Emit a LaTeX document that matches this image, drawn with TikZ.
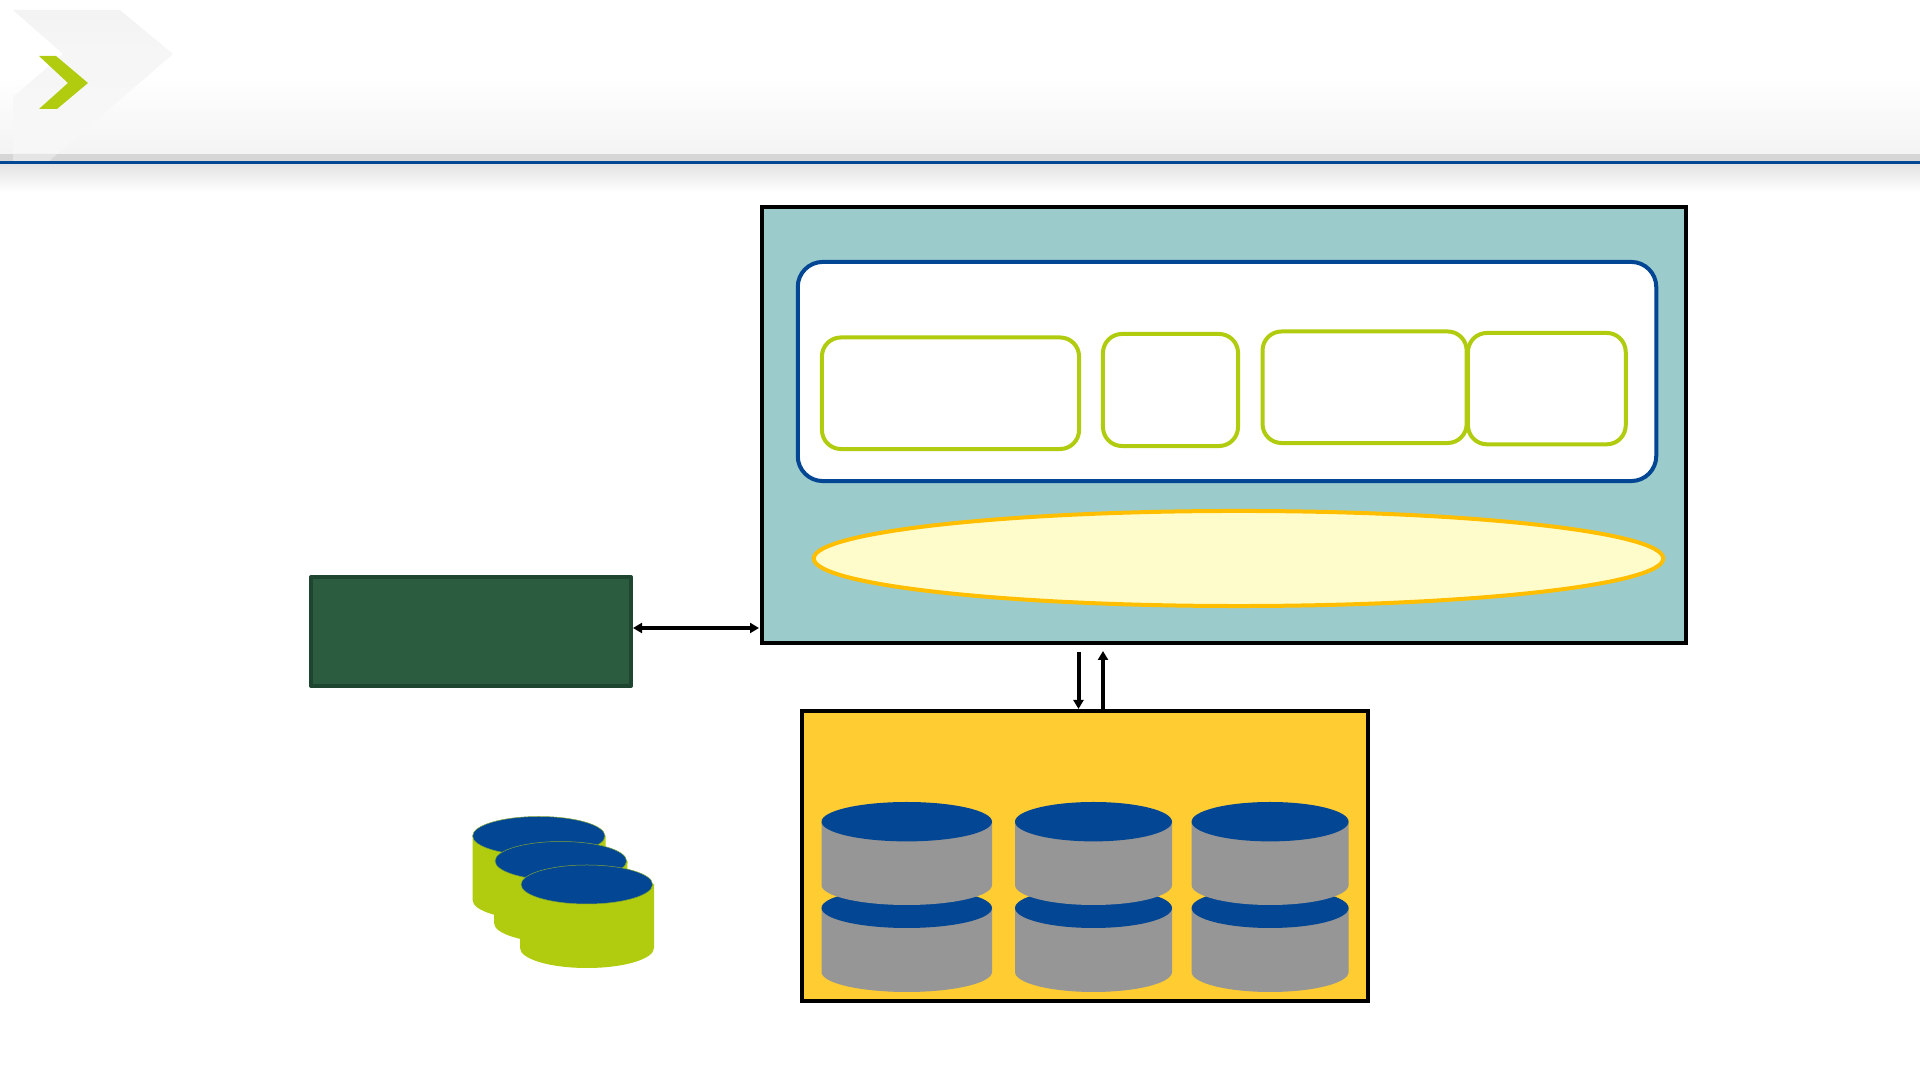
\documentclass[tikz,border=0pt]{standalone}
\usetikzlibrary{arrows.meta,shapes.geometric}
\definecolor{navyblue}{HTML}{034694}
\definecolor{limegreen}{HTML}{B1CC0E}
\definecolor{tealback}{HTML}{9BCBCB}
\definecolor{pinegreen}{HTML}{2C5C3F}
\definecolor{pineline}{HTML}{1D4530}
\definecolor{storeback}{HTML}{FFCC32}
\definecolor{diskgray}{HTML}{969696}
\pgfdeclareverticalshading{chevronfade}{100bp}{
    color(0bp)=(black!3); color(25bp)=(black!3); color(60bp)=(black!3.5); color(78bp)=(black!5);
    color(85bp)=(black!4.5); color(100bp)=(black!0.5)}
\tikzset{
    plainbox/.style={rectangle, draw=black, line width=0.43mm, inner sep=0pt},
    panelbox/.style={rectangle, rounded corners=1.9mm, draw=limegreen, fill=white, line width=0.4mm, inner sep=0pt},
    linkarrow/.style={black, line width=0.4mm},
    limebody/.style={fill=limegreen},
    graybody/.style={fill=diskgray},
    disktop/.style={fill=navyblue},
    limetop/.style={fill=navyblue, draw=limegreen!70!navyblue, line width=0.05mm},
}
\begin{document}
\begin{tikzpicture}[x=0.01cm,y=-0.01cm]
    \useasboundingbox (0,0) rectangle (1920,1080);

    % header
    \shade[top color=white, bottom color=black!4.5] (0,75) rectangle (1920,154);
    \fill[black!16] (0,154) rectangle (1920,161);
    \shade[top color=black!11, bottom color=white] (0,164) rectangle (1920,192);
    \shade[shading=chevronfade] (13,10) -- (120,10) -- (173,54) -- (57.4,154) -- (13,154) -- (13,97) -- (63,54) -- cycle;
    \fill[black!10] (13,154) -- (57.4,154) -- (49,161) -- (13,161) -- cycle;
    \fill[navyblue] (0,161) rectangle (1920,164);
    \fill[limegreen] (39,56) -- (56,56) -- (88,83) -- (57,109) -- (39,109) -- (68,83) -- cycle;

    % application side
    \node[plainbox, fill=tealback, minimum width=9.24cm, minimum height=4.36cm] (appbox) at (1224,425) {};
    \node[rectangle, rounded corners=2.5mm, draw=navyblue, fill=white, line width=0.4mm, minimum width=8.58cm, minimum height=2.19cm, inner sep=0pt] (layerbox) at (1227,371.5) {};
    \node[panelbox, minimum width=2.57cm, minimum height=1.115cm] (panela) at (950.5,393.25) {};
    \node[panelbox, minimum width=1.35cm, minimum height=1.12cm] (panelb) at (1170.5,390) {};
    \node[panelbox, minimum width=2.04cm, minimum height=1.115cm] (panelc) at (1364.6,387.25) {};
    \node[panelbox, minimum width=1.577cm, minimum height=1.113cm] (paneld) at (1546.85,388.65) {};
    \node[ellipse, draw=orange!50!yellow, fill=yellow!20, line width=0.4mm, minimum width=8.49cm, minimum height=0.95cm, inner sep=0pt] (busring) at (1238.5,558.5) {};

    % gateway
    \node[rectangle, draw=pineline, fill=pinegreen, line width=0.38mm, line join=round, minimum width=3.2cm, minimum height=1.09cm, inner sep=0pt] (gatebox) at (471,631.5) {};

    % store
    \node[plainbox, fill=storeback, minimum width=5.66cm, minimum height=2.9cm] (storebox) at (1085,856) {};

    % arrows
    \coordinate (gatedock) at (633,628);
    \coordinate (appdock) at (759,628);
    \coordinate (appout) at (1078.5,652);
    \coordinate (storein) at (1078.5,709);
    \coordinate (storeout) at (1103,709);
    \coordinate (appin) at (1103,651);
    \draw[linkarrow, {Triangle[length=0.9mm,width=1mm]}-{Triangle[length=0.9mm,width=1mm]}] (gatedock) -- (appdock);
    \draw[linkarrow, -{Triangle[length=0.9mm,width=1mm]}] (appout) -- (storein);
    \draw[linkarrow, -{Triangle[length=0.9mm,width=1mm]}] (storeout) -- (appin);

    % loose disks
    \fill[limebody] (472.5,836) -- (472.5,900) arc (180:0:66.6 and 20) -- (605.7,836) -- cycle;
    \filldraw[limetop] (538.8,836) ellipse (66.2 and 19.5);
    \fill[limebody] (494,861) -- (494,923) arc (180:0:66.7 and 20) -- (627.5,861) -- cycle;
    \filldraw[limetop] (560.8,861) ellipse (65.8 and 19.5);
    \fill[limebody] (520,884) -- (520,948) arc (180:0:67 and 20) -- (654,884) -- cycle;
    \filldraw[limetop] (586.8,884.5) ellipse (65.8 and 19.5);

    % disks in store, lower row first
    \fill[graybody] (821.5,908) -- (821.5,972) arc (180:0:85.25 and 20) -- (992,908) -- cycle;
    \fill[disktop] (906.75,908) ellipse (85.25 and 20);
    \fill[graybody] (1015,908) -- (1015,972) arc (180:0:78.5 and 20) -- (1172,908) -- cycle;
    \fill[disktop] (1093.5,908) ellipse (78.5 and 20);
    \fill[graybody] (1191.6,908) -- (1191.6,972) arc (180:0:78.5 and 20) -- (1348.6,908) -- cycle;
    \fill[disktop] (1270.1,908) ellipse (78.5 and 20);
    \fill[graybody] (821.5,821.7) -- (821.5,885) arc (180:0:85.25 and 20) -- (992,821.7) -- cycle;
    \fill[disktop] (906.75,821.7) ellipse (85.25 and 19.7);
    \fill[graybody] (1015,821.7) -- (1015,885) arc (180:0:78.5 and 20) -- (1172,821.7) -- cycle;
    \fill[disktop] (1093.5,821.7) ellipse (78.5 and 19.7);
    \fill[graybody] (1191.6,821.7) -- (1191.6,885) arc (180:0:78.5 and 20) -- (1348.6,821.7) -- cycle;
    \fill[disktop] (1270.1,821.7) ellipse (78.5 and 19.7);
\end{tikzpicture}
\end{document}
